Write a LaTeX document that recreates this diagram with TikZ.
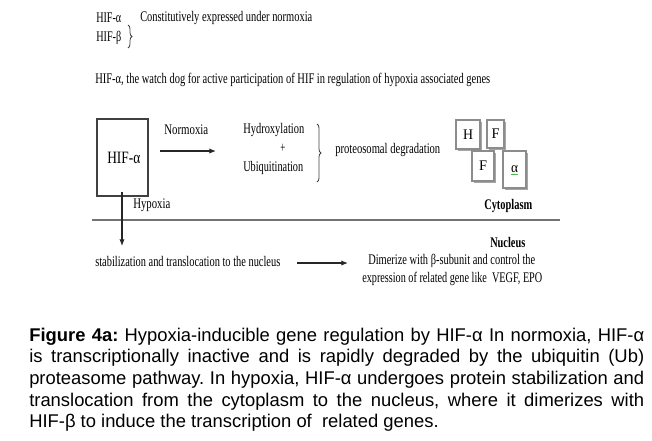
\documentclass[tikz,border=0pt]{standalone}
\usepackage{fontspec}
\usepackage{graphicx}
\setmainfont{Liberation Serif}
\newfontfamily\capfont{Liberation Sans}
\usetikzlibrary{decorations.pathreplacing,arrows.meta}
\newlength\pxu \setlength\pxu{0.75pt}
\newcommand\fw[2]{\resizebox{#1\pxu}{\height}{#2}}
\frenchspacing
\begin{document}
\begin{tikzpicture}[x=0.75pt,y=-0.75pt,
  lbl/.style={inner sep=0pt, anchor=west, text=black, font=\fontsize{11pt}{12pt}\selectfont},
  blbl/.style={lbl, font=\fontsize{11pt}{12pt}\selectfont\bfseries},
  arr/.style={draw=black!85, line width=0.9pt, -{Latex[length=5pt,width=4pt]}},
  hbox/.style={draw=black!75, line width=0.9pt, fill=white},
  brc/.style={decorate, decoration={brace, amplitude=4\pxu}, draw=black!75, line width=0.6pt},
]
\useasboundingbox (0,0) rectangle (652,440);

% header
\node[lbl] (ha) at (96,18) {\fw{25}{HIF-α}};
\node[lbl] (hb) at (96,38) {\fw{25}{HIF-β}};
\coordinate (b1t) at (128,25);
\coordinate (b1b) at (128,48);
\draw[brc] (b1t) -- (b1b);
\node[lbl] (const) at (140,18) {\fw{172}{Constitutively expressed under normoxia}};
\node[lbl] (watch) at (95,80) {\fw{395}{HIF-α, the watch dog for active participation of HIF in regulation of hypoxia associated genes}};

% HIF box
\draw[hbox] (97,119) rectangle (148,196);
\node[lbl, font=\fontsize{13pt}{14pt}\selectfont] (hif) at (107,158) {\fw{33}{HIF-α}};
\node[lbl] (norm) at (164,130) {\fw{44}{Normoxia}};
\coordinate (a1s) at (160,151);
\coordinate (a1e) at (216,151);
\draw[arr] (a1s) -- (a1e);
\node[lbl] (hydro) at (243,130) {\fw{61}{Hydroxylation}};
\node[lbl] (plus) at (280,148) {\fw{5}{+}};
\node[lbl] (ubi) at (243,168) {\fw{60}{Ubiquitination}};
\coordinate (b2t) at (317,124);
\coordinate (b2b) at (317,182);
\draw[brc] (b2t) -- (b2b);
\node[lbl] (deg) at (335,150) {\fw{105}{proteosomal degradation}};

% small boxes
\foreach \x/\y/\w/\h/\n in {456/120/24/29/H, 487/120/17/28/F1, 472/151/22/30/F2, 503/151/23/37/A}{
  \fill[black!35] (\x+1.5,\y+1.5) rectangle (\x+\w+1.5,\y+\h+1.5);
  \draw[draw=black!45, line width=0.8pt, fill=white] (\x,\y) rectangle (\x+\w,\y+\h);
  \coordinate (c\n) at (\x+\w/2,\y+\h/2);
}
\node[lbl, anchor=center] (lH) at (cH) {\fw{10}{H}};
\node[lbl, anchor=center] (lF1) at (cF1) {\fw{8}{F}};
\node[lbl, anchor=center] (lF2) at (cF2) {\fw{8}{F}};
\node[lbl, anchor=center] (lA) at (cA) {\fw{7}{α}};
\draw[green!60!black!70, line width=1pt] ([xshift=-3.5\pxu,yshift=-1\pxu]lA.south) -- ([xshift=3.5\pxu,yshift=-1\pxu]lA.south);

\node[blbl] (cyto) at (484,206) {\fw{48}{Cytoplasm}};
\node[lbl] (hyp) at (133,205) {\fw{37}{Hypoxia}};

% membrane line
\coordinate (m1) at (92,220);
\coordinate (m2) at (560,220);
\draw[black!55, line width=1.6pt] (m1) -- (m2);

% vertical arrow
\coordinate (v1) at (122,192);
\coordinate (v2) at (122,246);
\draw[arr] (v1) -- (v2);

\node[blbl] (nuc) at (490,242) {\fw{35}{Nucleus}};
\node[lbl] (stab) at (95,261) {\fw{185}{stabilization and translocation to the nucleus}};
\coordinate (a2s) at (297,263);
\coordinate (a2e) at (348,263);
\draw[arr] (a2s) -- (a2e);
\node[lbl] (dim) at (368,261) {\fw{167}{Dimerize with β-subunit and control the}};
\node[lbl] (expr) at (362,279) {\fw{180}{expression of related gene like\ \ VEGF, EPO}};

% caption
\node[inner sep=0pt, anchor=base west, text width=615\pxu, align=justify,
      font=\capfont\fontsize{13.8pt}{16.3pt}\selectfont] (cap) at (29,341)
{\textbf{Figure 4a:} Hypoxia-inducible gene regulation by HIF-α In normoxia, HIF-α\linebreak
is transcriptionally inactive and is rapidly degraded by the ubiquitin (Ub)\linebreak
proteasome pathway. In hypoxia, HIF-α undergoes protein stabilization and\linebreak
translocation from the cytoplasm to the nucleus, where it dimerizes with\linebreak
HIF-β to induce the transcription of\ \ related genes.};
\end{tikzpicture}
\end{document}
